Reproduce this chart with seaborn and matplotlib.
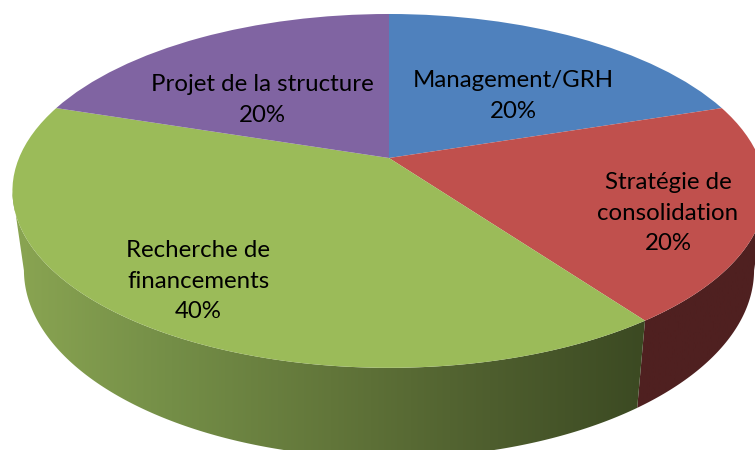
import numpy as np
import matplotlib
matplotlib.use('Agg')
import matplotlib.pyplot as plt
import seaborn as sns
from matplotlib.colors import LinearSegmentedColormap
from matplotlib.patches import Polygon
from matplotlib.transforms import Transform

# Slices, clockwise from the top
categories = ['Management/GRH', 'Stratégie de\nconsolidation', 'Recherche de\nfinancements', 'Projet de la structure']
values = [20, 20, 40, 20]
top_colors = ['#4f81bd', '#c0504d', '#9bbb59', '#8064a2']
side_stops = {1: ['#4f2020', '#4f2020'], 2: ['#8aa552', '#748e47', '#62763a', '#4e5e2e', '#3b4922']}
label_xy = [(513, 96), (668, 213), (198, 281), (262, 100)]

tilt = 0.186


class Perspective(Transform):
    # unit circle of the pie -> pixels, camera tilted above the disc
    input_dims = output_dims = 2
    is_separable = False
    has_inverse = False

    def __init__(self, cy, rx, ry):
        super().__init__()
        self.cy = cy
        self.rx = rx
        self.ry = ry

    def transform_non_affine(self, pts):
        pts = np.asarray(pts, dtype=float)
        w = 1 + tilt * pts[:, 1]
        x = 389 + self.rx * pts[:, 0] / w
        y = self.cy - self.ry * pts[:, 1] / w
        return np.column_stack([x, y])


top = Perspective(158, 370, 170.8)
bottom = Perspective(235, 358.7, 181.5)

sns.set_theme(style='white')
plt.rcParams['font.family'] = ['Lato', 'DejaVu Sans']

fig = plt.figure(figsize=(7.55, 4.5), dpi=100)
ax = fig.add_axes([0, 0, 1, 1])

wedges, _ = ax.pie(values, colors=top_colors, startangle=90, counterclock=False, radius=1)
ax.set_aspect('auto')
ax.axis('off')

# Side walls of the cylinder, under the top face
for i, wedge in enumerate(wedges):
    wedge.set_transform(top + ax.transData)
    wedge.set_linewidth(0)
    wedge.set_zorder(3)
    if i not in side_stops:
        continue
    ang = np.radians(np.linspace(wedge.theta1, wedge.theta2, 300))
    # only the part of the rim between the two silhouette points is visible
    ang = ang[np.sin(ang) <= -tilt]
    arc = np.column_stack([np.cos(ang), np.sin(ang)])
    outline = np.vstack([top.transform(arc), bottom.transform(arc)[::-1]])
    wall = Polygon(outline, closed=True, facecolor='none', edgecolor='none')
    ax.add_patch(wall)
    cmap = LinearSegmentedColormap.from_list('wall', side_stops[i])
    img = ax.imshow(np.linspace(0, 1, 256)[None, :], cmap=cmap, aspect='auto',
                    extent=[12, 650, 460, 0] if i == 2 else [630, 770, 460, 0], zorder=2)
    img.set_clip_path(wall)

ax.set_xlim(0, 755)
ax.set_ylim(450, 0)

for name, value, (x, y) in zip(categories, values, label_xy):
    ax.text(x, y, f'{name}\n{value}%', ha='center', va='center', fontsize=17.3,
            color='black', linespacing=1.55, zorder=4)

fig.savefig('out.png', dpi=100)
